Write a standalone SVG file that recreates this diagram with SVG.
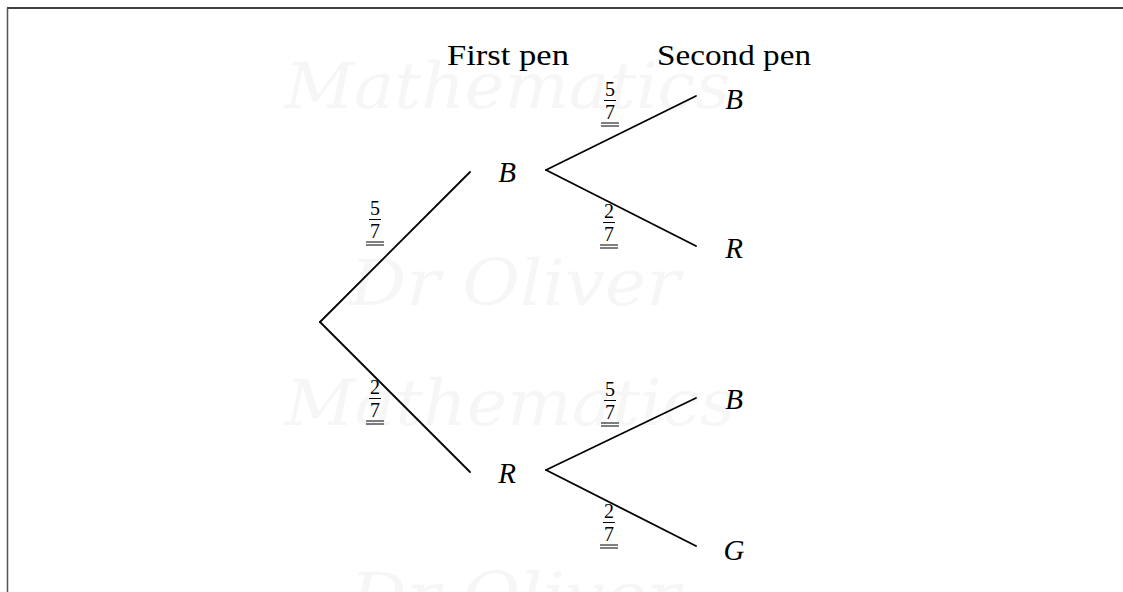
<svg xmlns="http://www.w3.org/2000/svg" width="1123" height="592" viewBox="0 0 1123 592">
<style>
.wm{font-family:"DejaVu Serif","Liberation Serif",serif;font-style:italic;font-size:64px;fill:#f6f6f6}
.br{stroke:#000;stroke-width:1.8;fill:none;stroke-linecap:round}
.nd{font-family:"Liberation Serif",serif;font-style:italic;font-size:29px;fill:#000;text-anchor:middle}
.hd{font-family:"Liberation Serif",serif;font-size:29px;fill:#000}
.fr text{font-family:"Liberation Serif",serif;font-size:20px;fill:#000;text-anchor:middle}
</style>
<defs>
<g id="ul" stroke="#000" stroke-width="1"><line x1="-6" y1="-22.5" x2="6" y2="-22.5"/><line x1="-9" y1="0" x2="9" y2="0"/><line x1="-9" y1="3" x2="9" y2="3"/></g>
</defs>
<rect width="1123" height="592" fill="#fff"/>
<g id="watermark">
<text class="wm" x="285" y="108" textLength="445" lengthAdjust="spacingAndGlyphs">Mathematics</text>
<text class="wm" x="350" y="305" textLength="330" lengthAdjust="spacingAndGlyphs">Dr Oliver</text>
<text class="wm" x="285" y="425" textLength="450" lengthAdjust="spacingAndGlyphs">Mathematics</text>
<text class="wm" x="350" y="618" textLength="330" lengthAdjust="spacingAndGlyphs">Dr Oliver</text>
</g>
<g id="frame" stroke-width="1.5">
<line x1="7" y1="8" x2="1123" y2="8" stroke="#000"/>
<line x1="7.5" y1="8" x2="7.5" y2="592" stroke="#555"/>
</g>
<g id="headers">
<text class="hd" x="447" y="65" textLength="122" lengthAdjust="spacingAndGlyphs">First pen</text>
<text class="hd" x="657" y="65" textLength="154" lengthAdjust="spacingAndGlyphs">Second pen</text>
</g>
<g id="connectors">
<line class="br" x1="320" y1="322" x2="470" y2="172"/>
<line class="br" x1="320" y1="322" x2="470" y2="472"/>
<line class="br" x1="546" y1="170" x2="696" y2="96"/>
<line class="br" x1="546" y1="170" x2="696" y2="246"/>
<line class="br" x1="546" y1="470" x2="696" y2="398"/>
<line class="br" x1="546" y1="470" x2="696" y2="546"/>
</g>
<g id="node-B1"><text class="nd" x="507" y="182">B</text></g>
<g id="node-R1"><text class="nd" x="507" y="483">R</text></g>
<g id="node-BB"><text class="nd" x="734" y="109">B</text></g>
<g id="node-BR"><text class="nd" x="734" y="258">R</text></g>
<g id="node-RB"><text class="nd" x="734" y="409">B</text></g>
<g id="node-RG"><text class="nd" x="734" y="560">G</text></g>
<g id="labels">
<g class="fr" transform="translate(375,242)"><text x="0" y="-27">5</text><use href="#ul"/><text x="0" y="-4">7</text></g>
<g class="fr" transform="translate(610,123)"><text x="0" y="-27">5</text><use href="#ul"/><text x="0" y="-4">7</text></g>
<g class="fr" transform="translate(609,245)"><text x="0" y="-27">2</text><use href="#ul"/><text x="0" y="-4">7</text></g>
<g class="fr" transform="translate(375,421)"><text x="0" y="-27">2</text><use href="#ul"/><text x="0" y="-4">7</text></g>
<g class="fr" transform="translate(610,423)"><text x="0" y="-27">5</text><use href="#ul"/><text x="0" y="-4">7</text></g>
<g class="fr" transform="translate(609,545)"><text x="0" y="-27">2</text><use href="#ul"/><text x="0" y="-4">7</text></g>
</g>
</svg>
